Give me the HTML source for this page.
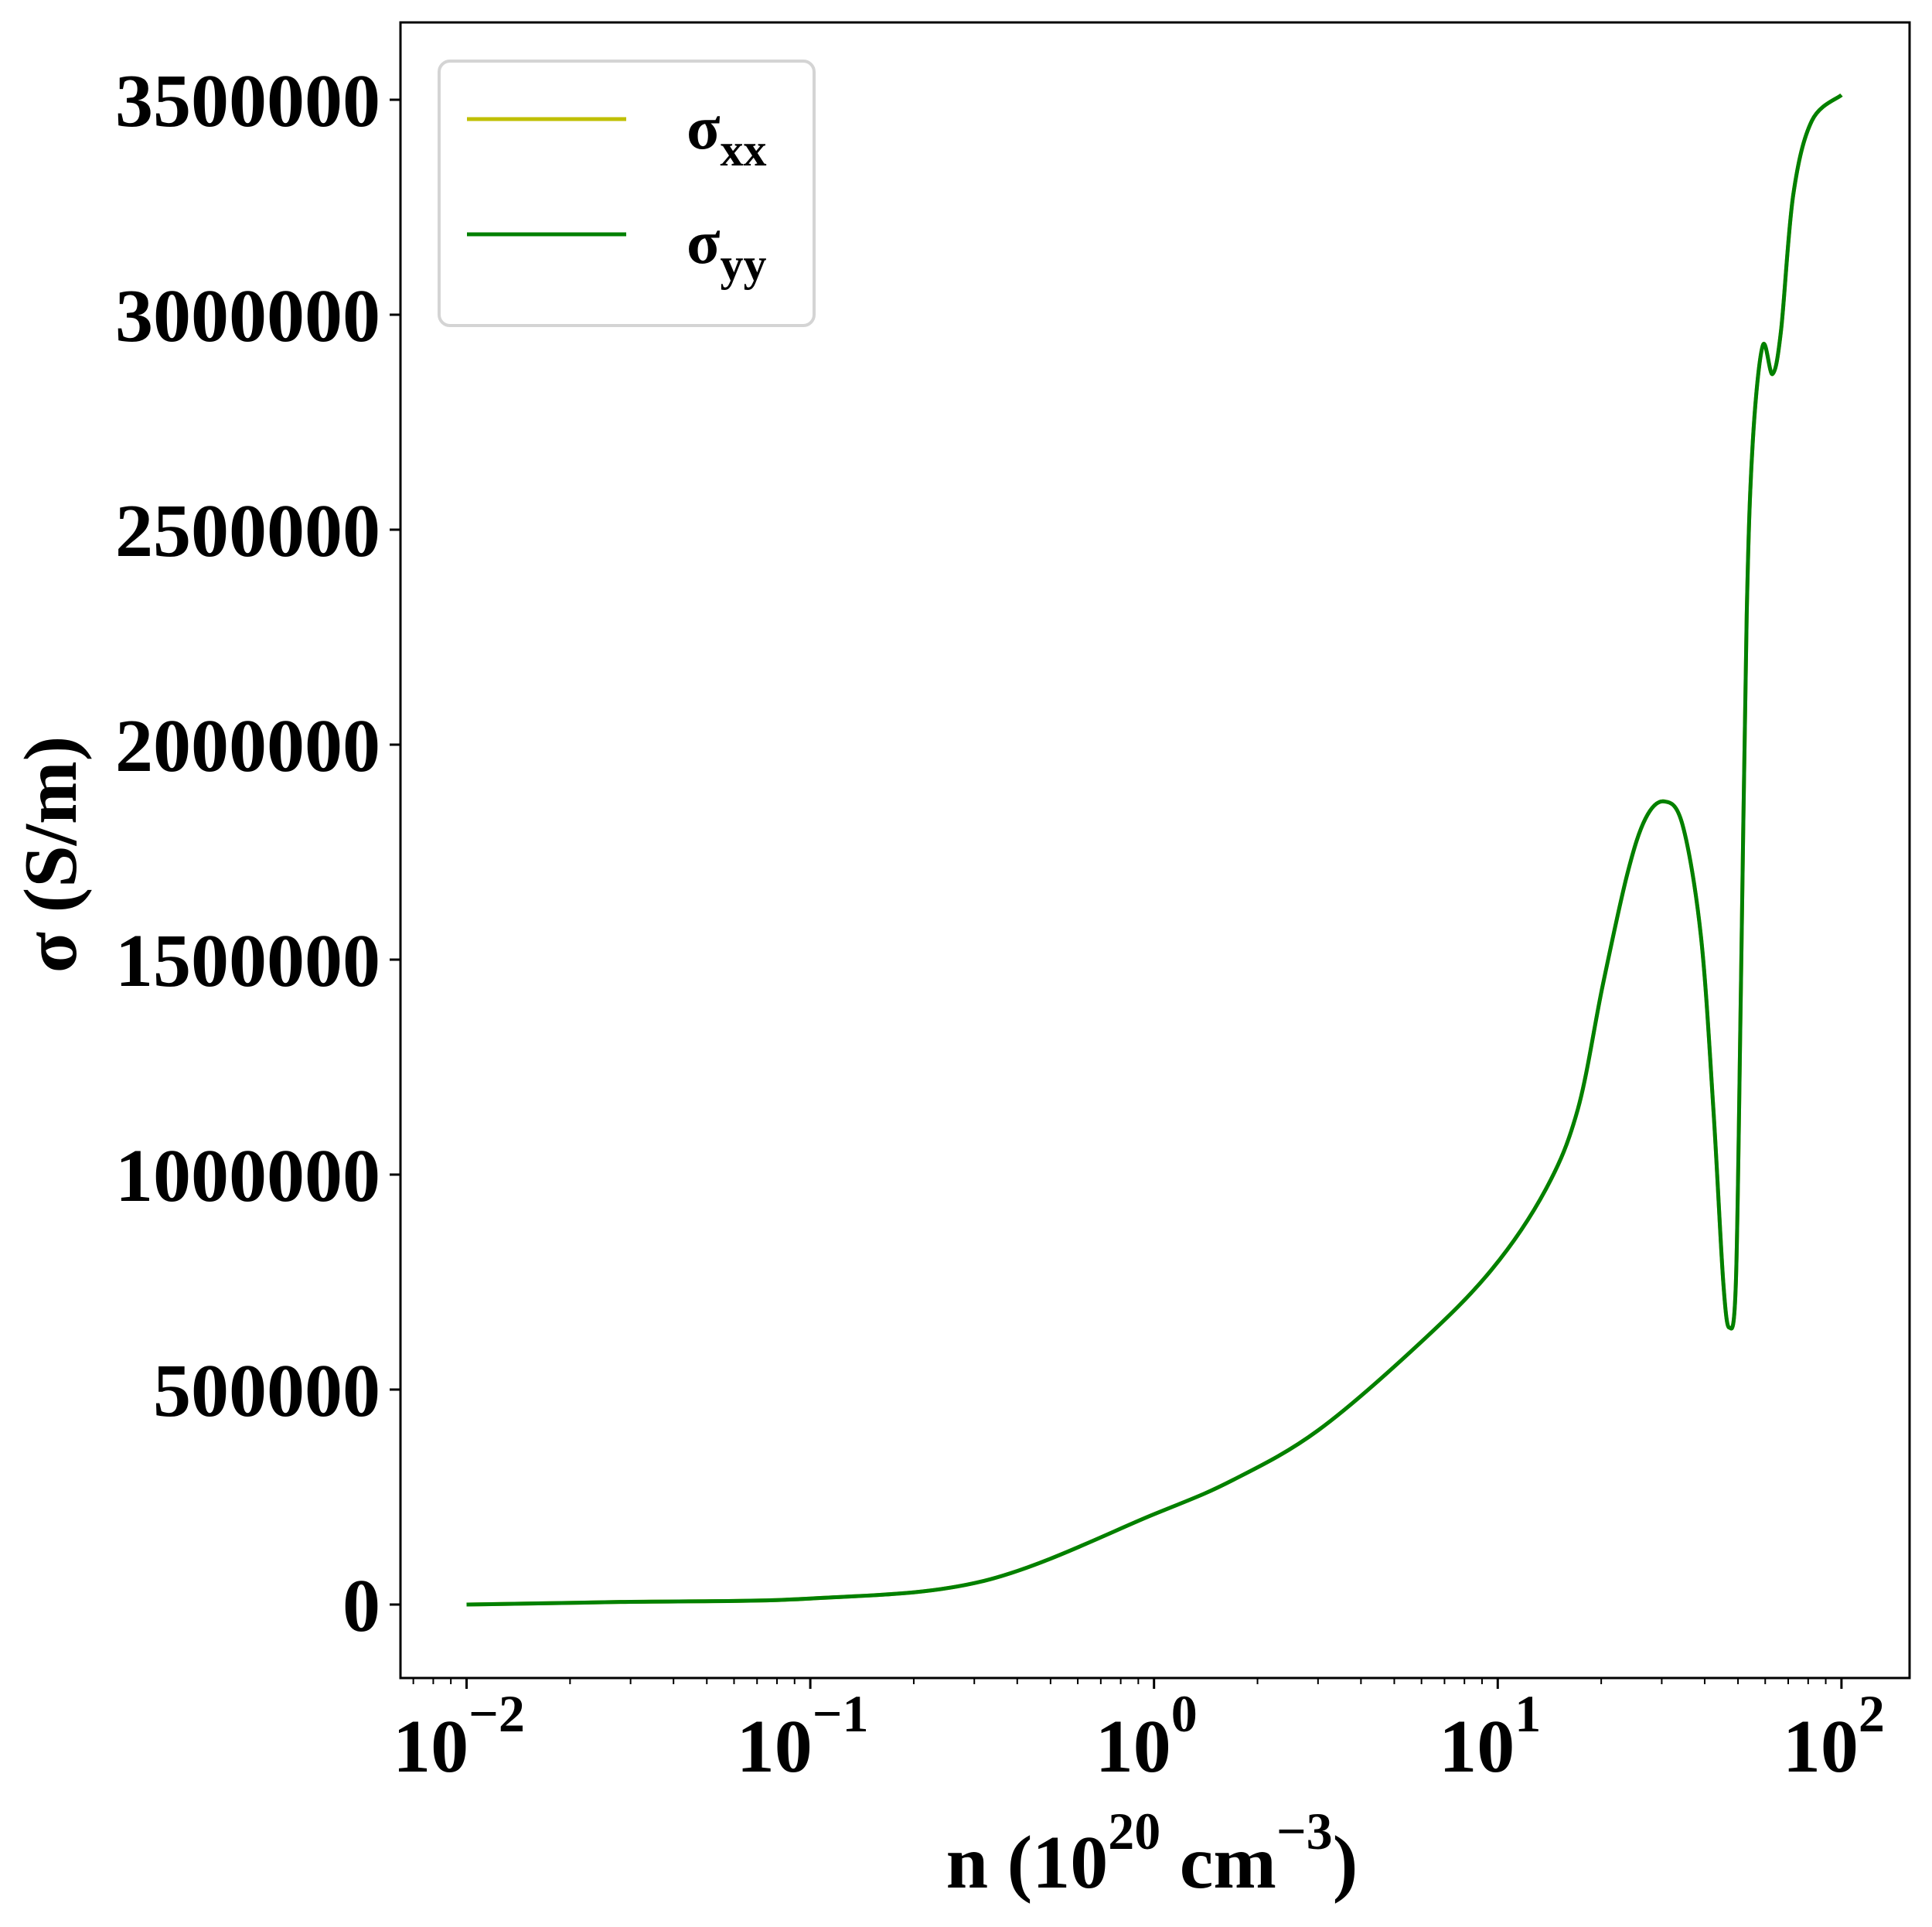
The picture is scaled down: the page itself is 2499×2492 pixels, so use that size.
<!DOCTYPE html>
<html><head><meta charset="utf-8"><style>
html,body{margin:0;padding:0;background:#fff;}
svg{display:block;font-family:"Liberation Serif",serif;font-weight:bold;}
</style></head><body>
<svg id="chart" width="2499" height="2492" viewBox="0 0 2499 2492" xmlns="http://www.w3.org/2000/svg">
<rect x="0" y="0" width="2499" height="2492" fill="#fff"/>
<g id="plot"></g>
<g id="axes"></g>
<text x="1490" y="2441" font-size="98" text-anchor="middle">n (10<tspan dy="-50" font-size="68">20</tspan><tspan dy="50"> cm</tspan><tspan dy="-50" font-size="68">−3</tspan><tspan dy="50">)</tspan></text>
<text transform="translate(98,1105) rotate(-90)" font-size="98" text-anchor="middle">σ (S/m)</text>
<g>
<rect x="568" y="79" width="485" height="342" rx="14" fill="#fff" stroke="#d4d4d4" stroke-width="4"/>
<line x1="604" y1="154" x2="810" y2="154" stroke="#bfbf00" stroke-width="5"/>
<text x="888" y="192" font-size="80">σ<tspan dy="22" font-size="60">xx</tspan></text>
<line x1="604" y1="303" x2="810" y2="303" stroke="#008000" stroke-width="5"/>
<text x="888" y="340" font-size="80">σ<tspan dy="22" font-size="60">yy</tspan></text>
</g>
</svg>
<script>
const nValues=[0.01,0.028,0.1,0.32,1.0,1.7,3.0,5.9,9.6,13.8,17.1,20.2,23.8,26.9,30.5,34.5,39,42.4,45.3,47.2,49.3,51,53,55.2,59,63,66.7,72.4,82,100];
const sigmaYY=[0,6000,14000,55000,210000,290000,405000,606000,779000,966000,1152000,1440000,1698000,1828000,1868000,1813000,1555000,1152000,750000,644000,750000,1440000,2300000,2704000,2928000,2862000,2963000,3279000,3451000,3511000];
const sigmaXX=sigmaYY.slice();
const yTicks=[0,500000,1000000,1500000,2000000,2500000,3000000,3500000];
const xTickExps=[-2,-1,0,1,2];
const xTickLabels=["−2","−1","0","1","2"];

const L=518,R=2470,T=29,B=2170;
const X0=603.5,DEC=444.6,Y0=2075,YS=278/500000;
function xs(n){return X0+(Math.log10(n)+2)*DEC;}
function ys(v){return Y0-v*YS;}
const NS="http://www.w3.org/2000/svg";
function mk(tag,attrs,parent){const e=document.createElementNS(NS,tag);for(const k in attrs)e.setAttribute(k,attrs[k]);parent.appendChild(e);return e;}
const plot=document.getElementById('plot'),axes=document.getElementById('axes');

function pathFor(ns,vs){
  const p=ns.map((n,i)=>[xs(n),ys(vs[i])]);
  let d="M"+p[0][0]+","+p[0][1];
  for(let i=0;i<p.length-1;i++){
    const p0=p[Math.max(0,i-1)],p1=p[i],p2=p[i+1],p3=p[Math.min(p.length-1,i+2)];
    const c1x=p1[0]+(p2[0]-p0[0])/6,c1y=p1[1]+(p2[1]-p0[1])/6;
    const c2x=p2[0]-(p3[0]-p1[0])/6,c2y=p2[1]-(p3[1]-p1[1])/6;
    d+=" C"+c1x+","+c1y+" "+c2x+","+c2y+" "+p2[0]+","+p2[1];
  }
  return d;
}
let e;
e=mk('path',{d:pathFor(nValues,sigmaXX),fill:'none',stroke:'#bfbf00','stroke-width':5},plot);


e=mk('path',{d:pathFor(nValues,sigmaYY),fill:'none',stroke:'#008000','stroke-width':5},plot);



e=mk('rect',{x:L,y:T,width:R-L,height:B-T,fill:'none',stroke:'#000','stroke-width':3},axes);



yTicks.forEach(v=>{
  const y=ys(v);
  e=mk('line',{x1:L-14,y1:y,x2:L,y2:y,stroke:'#000','stroke-width':3},axes);
  
  
  e=mk('text',{x:L-26,y:y+34,'font-size':98,'text-anchor':'end'},axes);
  e.textContent=String(v);
  
  
});
xTickExps.forEach((k,i)=>{
  const x=xs(Math.pow(10,k));
  e=mk('line',{x1:x,y1:B,x2:x,y2:B+14,stroke:'#000','stroke-width':3},axes);
  
  
  e=mk('text',{x:x-10,y:2291,'font-size':98,'text-anchor':'middle'},axes);
  e.innerHTML='10<tspan dy="-52" font-size="68">'+xTickLabels[i]+'</tspan>';
  
  
});
for(let k=-3;k<=2;k++){for(let m=2;m<=9;m++){
  const x=xs(m*Math.pow(10,k));
  if(x<L||x>R)continue;
  e=mk('line',{x1:x,y1:B,x2:x,y2:B+8,stroke:'#000','stroke-width':2},axes);
  
  
}}
</script>
</body></html>
